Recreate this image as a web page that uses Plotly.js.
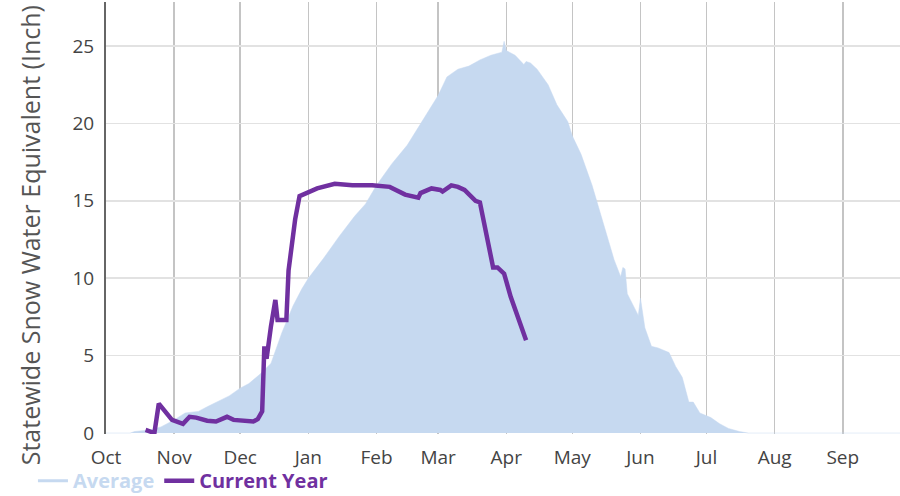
<!DOCTYPE html>
<html>
<head>
<meta charset="utf-8">
<script src="https://cdn.plot.ly/plotly-3.0.1.min.js"></script>
<style>html,body{margin:0;padding:0;background:#fff;}#chart{width:900px;height:496px;}</style>
</head>
<body>
<div id="chart"></div>
<script>
// Average statewide SWE (inches)
const avgDates = ["2022-10-01","2022-10-12","2022-10-14","2022-10-21","2022-10-26","2022-11-01","2022-11-06","2022-11-12","2022-11-16","2022-11-22","2022-11-26","2022-12-01","2022-12-05","2022-12-10","2022-12-15","2022-12-20","2022-12-25","2022-12-29","2023-01-01","2023-01-08","2023-01-15","2023-01-22","2023-01-27","2023-02-01","2023-02-05","2023-02-08","2023-02-15","2023-02-22","2023-03-01","2023-03-05","2023-03-10","2023-03-15","2023-03-20","2023-03-25","2023-03-30","2023-03-31","2023-04-01","2023-04-05","2023-04-09","2023-04-10","2023-04-12","2023-04-15","2023-04-20","2023-04-24","2023-04-29","2023-05-01","2023-05-05","2023-05-10","2023-05-15","2023-05-20","2023-05-23","2023-05-24","2023-05-25","2023-05-26","2023-05-31","2023-06-01","2023-06-03","2023-06-06","2023-06-09","2023-06-14","2023-06-17","2023-06-20","2023-06-23","2023-06-25","2023-06-28","2023-07-03","2023-07-07","2023-07-11","2023-07-16","2023-07-20","2023-09-30"];
const avgValues = [0,0,0.1,0.2,0.4,0.85,1.3,1.4,1.7,2.1,2.4,2.9,3.2,3.8,4.5,6.5,8.2,9.3,10.0,11.3,12.7,14.0,14.8,16.0,16.8,17.4,18.6,20.2,21.8,23.0,23.5,23.7,24.1,24.4,24.6,25.3,24.7,24.4,23.8,24.0,23.9,23.5,22.5,21.2,20.1,19.2,18.0,16.0,13.6,11.2,10.1,10.7,10.6,9.0,7.6,8.7,6.8,5.6,5.5,5.2,4.3,3.6,2.0,2.0,1.3,1.0,0.6,0.3,0.1,0,0];

// Current year statewide SWE (inches)
const curDates = ["2022-10-19","2022-10-23","2022-10-25","2022-10-31","2022-11-05","2022-11-08","2022-11-11","2022-11-16","2022-11-20","2022-11-25","2022-11-28","2022-12-07","2022-12-09","2022-12-11","2022-12-12","2022-12-13","2022-12-15","2022-12-17","2022-12-18","2022-12-22","2022-12-23","2022-12-26","2022-12-28","2022-12-31","2023-01-05","2023-01-13","2023-01-21","2023-01-30","2023-02-07","2023-02-14","2023-02-20","2023-02-21","2023-02-26","2023-03-02","2023-03-03","2023-03-07","2023-03-10","2023-03-13","2023-03-18","2023-03-20","2023-03-21","2023-03-23","2023-03-26","2023-03-28","2023-03-31","2023-04-03","2023-04-07","2023-04-10"];
const curValues = [0.2,0.0,1.9,0.85,0.6,1.05,1.0,0.8,0.75,1.05,0.85,0.75,0.9,1.4,5.6,4.8,6.9,8.6,7.3,7.3,10.5,13.8,15.3,15.5,15.8,16.1,16.0,16.0,15.9,15.4,15.2,15.5,15.8,15.7,15.6,16.0,15.9,15.7,15.0,14.9,14.2,12.7,10.7,10.7,10.3,8.8,7.3,6.0];

const monthTicks = ["2022-10-01","2022-11-01","2022-12-01","2023-01-01","2023-02-01","2023-03-01","2023-04-01","2023-05-01","2023-06-01","2023-07-01","2023-08-01","2023-09-01"];
const monthLabels = ["Oct","Nov","Dec","Jan","Feb","Mar","Apr","May","Jun","Jul","Aug","Sep"];
const yTicks = [0,5,10,15,20,25];
const yTitle = "Statewide Snow Water Equivalent (Inch)";

const AVG_COLOR = "#c6d9f0";
const CUR_COLOR = "#7030a0";

const traces = [
  {x: avgDates, y: avgValues, type: "scatter", mode: "lines", fill: "tozeroy",
   fillcolor: AVG_COLOR, line: {color: AVG_COLOR, width: 0.5}, showlegend: false, hoverinfo: "skip"},
  {x: [null], y: [null], type: "scatter", mode: "lines", name: "Average",
   line: {color: AVG_COLOR, width: 3}},
  {x: curDates, y: curValues, type: "scatter", mode: "lines", name: "Current Year",
   line: {color: CUR_COLOR, width: 4.5}}
];

const layout = {
  width: 900, height: 496,
  margin: {l: 106, r: 0, t: 2, b: 62, autoexpand: false},
  paper_bgcolor: "#fff", plot_bgcolor: "#fff",
  font: {family: "Open Sans, Noto Sans, sans-serif", color: "#444", size: 19},
  xaxis: {
    type: "date", range: ["2022-10-01", "2023-09-27"], automargin: false,
    tickvals: monthTicks, ticktext: monthLabels,
    showgrid: true, gridcolor: "#c4c4c4", gridwidth: 1.5,
    zeroline: false, showline: false, ticks: "", ticklabelstandoff: 10,
    tickfont: {size: 19, color: "#444"}
  },
  yaxis: {
    range: [-0.06, 27.84], tickvals: yTicks, automargin: false,
    showgrid: true, gridcolor: "#e2e2e2", gridwidth: 1.5,
    zeroline: false, showline: true, linecolor: "#666", linewidth: 2,
    ticks: "", ticklabelstandoff: 6,
    tickfont: {size: 19, color: "#444"}
  },
  annotations: [{
    text: yTitle, textangle: -90, showarrow: false,
    xref: "paper", yref: "paper", x: 0, xanchor: "center", xshift: -76,
    y: 0.46, yanchor: "middle",
    font: {size: 25, color: "#555", family: "Open Sans, Noto Sans, sans-serif"}
  }],
  legend: {
    orientation: "h", x: -0.092, xanchor: "left", y: -0.108, yanchor: "middle",
    font: {size: 20, family: "Open Sans, Noto Sans, sans-serif", weight: "bold"},
    itemwidth: 30, tracegroupgap: 0, bgcolor: "rgba(0,0,0,0)"
  },
  showlegend: true
};

Plotly.newPlot("chart", traces, layout, {displayModeBar: false, staticPlot: true}).then(function(gd){
  const items = gd.querySelectorAll(".legend .traces");
  const cols = [AVG_COLOR, CUR_COLOR];
  items.forEach(function(it, i){
    const t = it.querySelector("text.legendtext");
    if (t) { t.style.fill = cols[i]; t.style.fontWeight = "bold"; }
  });
});
</script>
</body>
</html>
